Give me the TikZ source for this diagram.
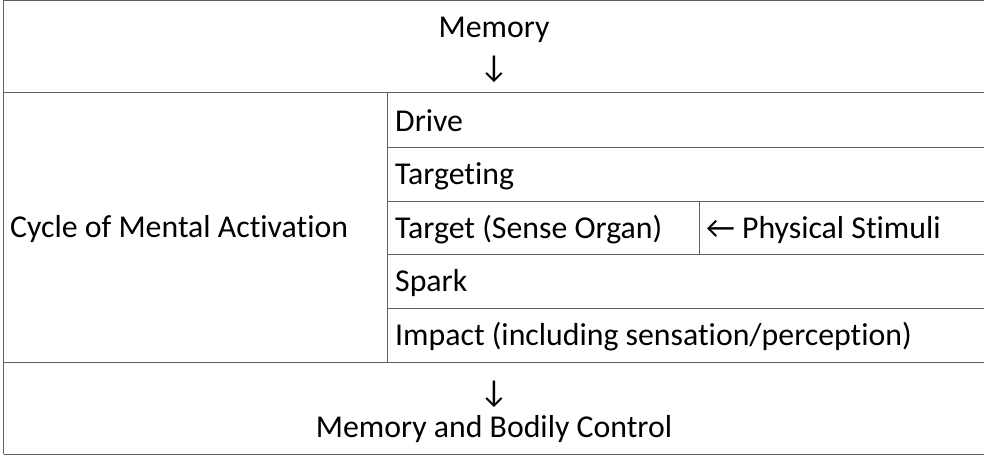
\documentclass[tikz,border=0pt]{standalone}
\usepackage{fontspec}
\setmainfont{Carlito}[Ligatures={NoCommon}]
\definecolor{rulecol}{RGB}{95,95,95}
\begin{document}
\begin{tikzpicture}[x=1pt,y=-1pt,
  rule/.style={draw=rulecol,line width=1pt},
  lt/.style={anchor=base west,inner sep=0pt,font=\fontsize{31.8}{38}\selectfont},
  ct/.style={anchor=base,inner sep=0pt,font=\fontsize{31.8}{38}\selectfont}]
\useasboundingbox (0,0) rectangle (984,455);
\clip (0,0) rectangle (984,455);
% table rules
\draw[rule] (3.5,0.5) -- (990,0.5);
\draw[rule] (3.5,0) -- (3.5,454);
\draw[rule] (3.5,92.5) -- (990,92.5);
\draw[rule] (387.5,92.5) -- (387.5,362);
\draw[rule] (387.5,147) -- (990,147);
\draw[rule] (387.5,201) -- (990,201);
\draw[rule] (387.5,254.5) -- (990,254.5);
\draw[rule] (387.5,308) -- (990,308);
\draw[rule] (699,201) -- (699,254.5);
\draw[rule] (3.5,362) -- (990,362);
\draw[rule] (3.5,454) -- (990,454);
% texts
\node[ct] (mem) at (494,37) {Memory};
\node[ct] (arr1) at (494,77) {↓};
\node[lt] (cyc) at (10,237) {Cycle of Mental Activation};
\node[lt] (drv) at (395,131) {Drive};
\node[lt] (tgt) at (395,184.5) {Targeting};
\node[lt] (org) at (395,238) {Target (Sense Organ)};
\node[lt] (stim) at (706,238) {← Physical Stimuli};
\node[lt] (spk) at (395,291.5) {Spark};
\node[lt] (imp) at (395,345) {Impact (including sensation/perception)};
\node[ct] (arr2) at (494,402) {↓};
\node[ct] (mbc) at (494,437) {Memory and Bodily Control};
\end{tikzpicture}
\end{document}
